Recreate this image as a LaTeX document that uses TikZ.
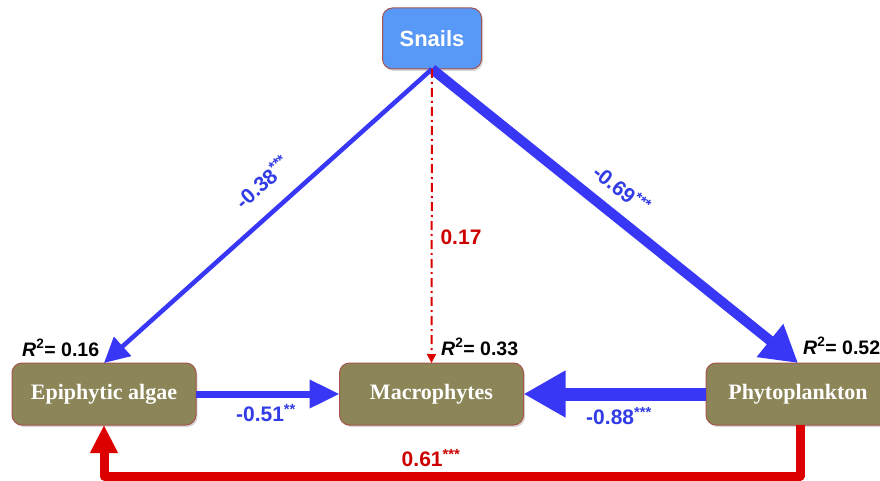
\documentclass[tikz,border=0pt]{standalone}
\usepackage{fontspec}
\setmainfont{Liberation Serif}
\newfontfamily\arialf{Liberation Sans}
\usetikzlibrary{arrows.meta,shadows,calc}
\definecolor{arrblue}{RGB}{55,55,245}
\definecolor{lblblue}{RGB}{50,60,230}
\definecolor{arrred}{RGB}{220,0,0}
\definecolor{lblred}{RGB}{205,0,0}
\definecolor{snailfill}{RGB}{88,152,246}
\definecolor{boxborder}{RGB}{165,85,75}
\definecolor{olive}{RGB}{140,133,88}
\tikzset{
  basebox/.style={rounded corners=10pt, draw=boxborder, line width=1pt, inner sep=0pt, outer sep=0pt,
    drop shadow={shadow xshift=1.5pt, shadow yshift=-2pt, opacity=0.3}},
  snailbox/.style={basebox, fill=snailfill, minimum width=99pt, minimum height=61pt,
    text=white, font=\arialf\bfseries\fontsize{22}{26}\selectfont},
  olivebox/.style={basebox, fill=olive, minimum width=184pt, minimum height=62pt,
    text=white, font=\bfseries\fontsize{22}{26}\selectfont},
  bluearrow/.style={draw=arrblue},
  redarrow/.style={draw=arrred},
  lbl/.style={font=\arialf\bfseries\fontsize{21}{24}\selectfont, inner sep=0pt},
  rlbl/.style={font=\arialf\bfseries\fontsize{19.5}{22}\selectfont, inner sep=0pt, anchor=west, text=black},
}
\begin{document}
\begin{tikzpicture}[x=1pt,y=-1pt]
\useasboundingbox (0,0) rectangle (880,481);
\fill[white] (0,0) rectangle (880,481);
% boxes
\node[snailbox] (S) at (432,38.5) {Snails};
\node[olivebox] (E) at (104,394) {Epiphytic algae};
\node[olivebox] (M) at (431.5,394) {Macrophytes};
\node[olivebox] (P) at (798,394) {Phytoplankton};
% connectors
\draw[bluearrow, line width=4.5pt, -{Triangle[length=25pt,width=25pt]}] (S.south) -- (E.north);
\draw[bluearrow, line width=10pt, -{Triangle[length=36pt,width=40pt]}] (S.south) -- (P.north);
\draw[redarrow, line width=2pt, dash pattern=on 9pt off 4pt on 2pt off 4pt, -{Triangle[length=9pt,width=9pt]}] (S.south) -- (M.north);
\draw[bluearrow, line width=7pt, -{Triangle[length=30pt,width=27pt]}] (E.east) -- (M.west);
\draw[bluearrow, line width=13pt, -{Triangle[length=42pt,width=44pt]}] (P.west) -- (M.east);
\draw[redarrow, line width=9pt, line join=round, -{Triangle[length=28pt,width=26pt]}] ([xshift=2pt]P.south) -- ++(0,51) -| (E.south);
% labels
\node[lbl, text=lblblue, rotate=42] (l1) at (262,182) {-0.38\textsuperscript{***}};
\node[lbl, text=lblblue, rotate=-39] (l2) at (622,189) {-0.69\textsuperscript{***}};
\node[lbl, text=lblred] (l3) at (461,237) {0.17};
\node[lbl, text=lblblue] (l4) at (266,413) {-0.51\textsuperscript{**}};
\node[lbl, text=lblblue] (l5) at (619,416) {-0.88\textsuperscript{***}};
\node[lbl, text=lblred] (l6) at (431,458) {0.61\textsuperscript{***}};
\node[rlbl] (r1) at (22,348) {\textit{R}\textsuperscript{2}= 0.16};
\node[rlbl] (r2) at (441,347) {\textit{R}\textsuperscript{2}= 0.33};
\node[rlbl] (r3) at (803,346) {\textit{R}\textsuperscript{2}= 0.52};
\end{tikzpicture}
\end{document}
